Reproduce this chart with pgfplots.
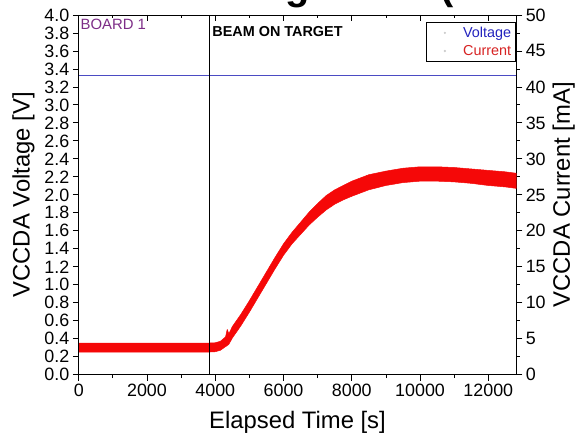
\documentclass[border=0pt]{standalone}
\usepackage{pgfplots}
\pgfplotsset{compat=1.18}
\usepackage{pgfplotstable}
\usepackage{fontspec}
\setmainfont{Liberation Sans}
\definecolor{vline}{RGB}{75,75,195}
\definecolor{vtext}{RGB}{35,35,190}
\definecolor{ctext}{RGB}{215,35,35}
\definecolor{cred}{RGB}{245,8,8}
\definecolor{board}{RGB}{125,45,135}

% current band: upper edge forward, lower edge backward
\pgfplotstableread{
t mA
0 4.4
1000 4.4
2000 4.4
3000 4.4
3800 4.4
4000 4.45
4150 4.65
4300 5.25
4350 6.3
4400 5.7
4500 6.7
4750 8.4
5000 10.3
5250 12.3
5500 14.3
5750 16.3
6000 18.2
6250 19.8
6500 21.2
6750 22.6
7000 23.8
7250 24.9
7500 25.7
7750 26.3
8000 26.9
8500 27.8
9000 28.3
9500 28.7
10000 28.9
10500 28.9
11000 28.8
11500 28.6
12000 28.4
12500 28.2
12820 28.0
12820 25.9
12500 26.1
12000 26.3
11500 26.6
11000 26.8
10500 26.9
10000 26.9
9500 26.7
9000 26.3
8500 25.7
8000 24.8
7750 24.3
7500 23.7
7250 22.9
7000 21.9
6750 20.8
6500 19.5
6250 18.2
6000 16.6
5750 14.7
5500 12.7
5250 10.7
5000 8.7
4750 6.8
4500 5.1
4400 4.25
4350 4.05
4300 3.9
4150 3.4
4000 3.2
3800 3.15
3000 3.15
2000 3.15
1000 3.15
0 3.15
}\currentband

\pgfplotsset{
  base/.style={
    scale only axis, width=439bp, height=361bp,
    at={(79bp,61bp)}, anchor=south west,
    xmin=0, xmax=12820,
    tick label style={font=\fontsize{18}{20}\selectfont},
    label style={font=\fontsize{24}{26}\selectfont},
    /pgf/number format/assume math mode=true,
    axis line style={line width=0.8pt},
    every tick/.style={black, line width=0.8pt},
    major tick length=6bp, minor tick length=3.5bp,
    scaled x ticks=false,
    xticklabel style={/pgf/number format/1000 sep={}},
  }
}

\begin{document}
\begin{tikzpicture}
\path (0,0) rectangle (578bp,437bp);

% cropped title (only its descenders fall inside the picture), kept out of the bounding box
\pgfinterruptboundingbox
\node[anchor=base west, inner sep=0pt, font=\fontsize{40}{44}\selectfont\bfseries] at (-121bp,437.5bp) {VCCDA Current during Beam (Board 1)};
\endpgfinterruptboundingbox

% left axis: voltage
\begin{axis}[base,
  ymin=0, ymax=4,
  ytick distance=0.2,
  yticklabel style={/pgf/number format/.cd, fixed, fixed zerofill, precision=1},
  xtick={0,2000,4000,6000,8000,10000,12000},
  minor x tick num=1,
  xtick pos=left, ytick pos=left,
  tick align=outside,
  xlabel={Elapsed Time [s]},
  xlabel style={yshift=-8bp},
  ylabel={VCCDA Voltage [V]},
  ylabel style={yshift=3bp},
]
\addplot[vline, line width=1.2pt] coordinates {(0,3.33) (12820,3.33)};
\node[anchor=base west, inner sep=0pt, text=board, font=\fontsize{15}{17}\selectfont] at (axis cs:50,3.84) {BOARD 1};
\node[anchor=base west, inner sep=0pt, font=\fontsize{14.5}{17}\selectfont\bfseries] at (axis cs:3912,3.755) {BEAM ON TARGET};
\end{axis}

% right axis: current
\begin{axis}[base,
  ymin=0, ymax=50,
  axis y line*=right, axis x line*=bottom,
  xtick=\empty,
  ytick distance=5, minor y tick num=1,
  tick align=outside,
  ylabel={VCCDA Current [mA]},
]
\addplot[draw=cred, fill=cred, line width=0.5pt, line join=round] table[x=t, y=mA] {\currentband} -- cycle;
\end{axis}

% top ticks, beam marker line and legend
\begin{axis}[base,
  ymin=0, ymax=4,
  axis x line*=top, axis y line*=left,
  ytick=\empty,
  xtick={0,2000,4000,6000,8000,10000,12000},
  minor x tick num=1,
  tick align=inside,
  xticklabels={},
  legend style={at={(0.998,0.98)}, anchor=north east, draw=black, line width=0.6pt,
    fill=white, font=\fontsize{14.5}{16}\selectfont, inner xsep=2bp, inner ysep=2.5bp,
    row sep=2.5bp},
  legend cell align=right,
]
\addplot[black, line width=0.7pt, forget plot] coordinates {(3825,0) (3825,4)};
\addlegendimage{legend image code/.code={\fill[gray!40] (16bp,0) circle (0.8pt); \fill[white, opacity=0] (0bp,-3bp) rectangle (32bp,3bp);}}
\addlegendentry{\textcolor{vtext}{Voltage}}
\addlegendimage{legend image code/.code={\fill[gray!40] (16bp,0) circle (0.8pt); \fill[white, opacity=0] (0bp,-3bp) rectangle (32bp,3bp);}}
\addlegendentry{\textcolor{ctext}{Current}}
\end{axis}
\end{tikzpicture}
\end{document}
